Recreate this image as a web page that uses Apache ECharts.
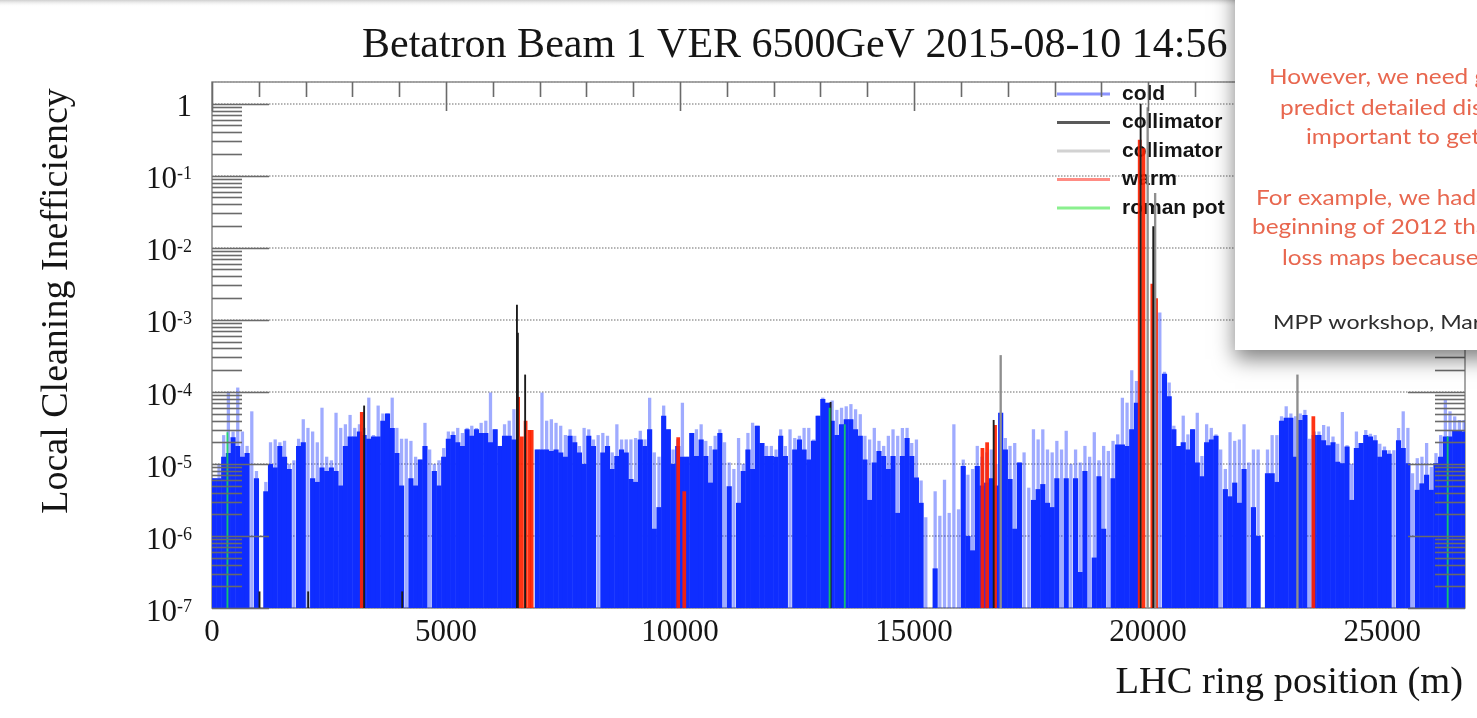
<!DOCTYPE html>
<html>
<head>
<meta charset="utf-8">
<script src="https://cdn.jsdelivr.net/npm/echarts@6/dist/echarts.min.js"></script>
<style>
  html, body { margin: 0; padding: 0; background: #ffffff; }
  #chart { width: 1477px; height: 718px; }
</style>
</head>
<body>
<div id="chart"></div>
<script>
// ---- Loss map data (positions in metres, losses as log10 of local cleaning inefficiency) ----

// Cold-element losses, 100 m bins starting at 0 m.
const BIN = 100;
// dense envelope of the cold losses per bin (null = no loss recorded in the bin)
const coldSolidExp = [
  -5.2,-5.2,-4.9,-4.85,-4.63,-4.75,-4.9,-4.85,null,-5.2,
  null,-5.38,-5.0,-5.05,-4.75,-4.9,-5.07,null,-4.75,-4.7,
  null,-5.2,-5.25,-5.05,-5.1,-5.05,-5.1,-5.3,-4.75,-4.62,
  -4.62,-4.55,-4.6,-4.65,-4.62,-4.62,-4.4,-4.3,-4.5,-4.85,
  -5.3,null,-5.2,-5.3,
  -4.94,-4.75,null,-5.1,-5.3,-4.9,-4.65,-4.6,-4.7,-4.75,
  -4.52,-4.61,-4.52,-4.57,-4.57,-4.7,-4.52,-4.75,-4.61,-4.61,
  -4.66,null,null,null,null,-4.8,-4.8,-4.8,-4.82,-4.8,
  -4.84,-4.9,-4.61,-4.7,-4.84,-5.0,-4.61,-4.75,null,-4.84,
  -4.75,-5.07,-4.89,-4.8,-4.84,
  -5.21,-5.25,-4.66,-4.75,-4.52,-5.9,-5.6,-4.33,-4.52,-5.0,
  -4.75,-4.9,-4.9,-4.57,-4.89,-4.66,-4.89,-5.26,-4.8,-4.57,
  null,-5.31,null,-5.54,-5.1,-4.8,-5.07,-4.47,-4.71,-4.89,
  -4.89,-4.9,-4.61,-4.89,null,-4.8,-4.66,-4.8,-4.94,-4.68,
  -4.33,-4.1,-4.15,-4.4,-4.6,
  -4.45,-4.38,-4.38,-4.52,-4.61,-4.94,-5.5,-4.98,-4.82,-4.89,
  -5.07,-4.89,-5.68,-4.89,-4.64,-4.89,-5.19,-5.54,null,null,
  -6.45,null,null,null,null,null,-5.03,-6.0,-6.2,-5.03,
  -5.3,-5.26,-5.2,-5.3,-4.29,-4.8,-5.21,-5.9,-4.98,null,
  null,-5.5,-5.35,-5.28,-5.54,
  -5.6,-5.2,null,-5.2,null,-5.2,-6.5,-5.1,null,-6.3,
  -5.17,-5.9,null,-5.2,-4.73,-4.73,-4.75,-4.52,-4.15,null,
  null,null,null,null,-3.75,-4.06,-4.52,-4.75,-4.7,-4.8,
  -4.52,-4.98,-5.17,-4.7,-4.66,-4.61,null,-5.35,-5.45,-5.26,
  -5.54,-5.07,null,-5.6,
  -6.0,null,-5.13,-5.13,-5.25,-4.4,-4.36,-4.36,-4.9,-4.39,
  -4.32,null,-4.6,-4.6,-4.67,-4.74,-4.7,-4.97,-4.99,-4.76,
  -5.5,-4.78,-4.71,-4.6,-4.62,-4.67,-4.9,-4.81,-4.86,null,
  -4.67,-4.78,-4.99,null,-5.36,-5.27,-5.15,-5.36,-4.99,-4.9,
  -4.62,-4.62,-4.53,-4.53,-4.55
];
// highest single cold monitor reading per bin
const coldSpikeExp = [
  -5.2,-5.0,-4.6,-4.0,-4.55,-3.94,-4.55,-4.75,-4.27,-5.1,
  null,-5.25,-4.7,-4.66,-4.7,-4.68,-5.0,-4.95,-4.65,-4.38,
  -4.5,-4.55,-4.7,-4.22,-4.9,-4.95,-4.29,-4.5,-4.45,-4.32,
  -4.5,-4.45,-4.5,-4.08,-4.6,-4.19,-4.3,-4.3,-4.08,-4.5,
  -4.65,-4.65,-4.68,-4.9,
  -4.94,-4.43,-4.8,-5.0,-4.95,-4.78,-4.55,-4.55,-4.5,-4.57,
  -4.5,-4.47,-4.5,-4.43,-4.4,-4.01,-4.52,-4.75,-4.45,-4.4,
  -4.24,null,null,null,null,-4.8,-4.01,-4.4,-4.38,-4.43,
  -4.47,-4.6,-4.52,-4.61,-4.75,-4.5,-4.52,-4.66,-4.6,-4.57,
  -4.61,-4.84,-4.45,-4.66,-4.66,
  -4.66,-4.64,-4.54,-4.66,-4.08,-4.84,-4.9,-4.19,-4.52,-4.8,
  -4.66,-4.15,-4.9,-4.57,-4.52,-4.45,-4.68,-4.75,-4.61,-4.52,
  -4.7,-4.98,-5.07,-4.64,-5.0,-4.57,-4.43,-4.47,-4.71,-4.75,
  -4.75,-4.8,-4.52,-4.75,-4.52,-4.64,-4.61,-4.5,-4.5,-4.66,
  -4.33,-4.08,-4.15,-4.12,-4.25,
  -4.22,-4.2,-4.17,-4.24,-4.31,-4.61,-4.66,-4.5,-4.68,-4.75,
  -4.61,-4.52,-4.61,-4.5,-4.5,-4.71,-4.66,-5.23,-5.74,null,
  -5.38,-5.72,-5.22,-5.68,-4.45,-5.63,-4.94,-5.15,-5.07,-4.75,
  -4.9,-4.84,-4.8,-5.0,-4.29,-4.64,-4.75,-4.71,-4.98,-4.84,
  -5.33,-4.52,-4.66,-4.52,-4.8,
  -4.84,-4.68,-4.8,-4.54,-5.0,-4.8,-4.98,-4.75,-4.9,-4.56,
  -4.95,-4.75,-4.82,-4.68,-4.59,-4.08,-4.15,-3.7,-3.85,null,
  null,null,null,-2.9,-3.72,-3.87,-4.47,-4.75,-4.33,-4.59,
  -4.52,-4.29,-4.89,-4.45,-4.5,-4.59,-4.8,-5.07,-4.56,-4.68,
  -4.66,-4.45,-4.98,-4.8,
  -4.8,null,-4.8,-4.6,-4.6,-4.34,-4.2,-4.3,-4.34,-4.3,
  -4.25,-4.65,-4.55,-4.55,-4.46,-4.48,-4.62,-4.72,-4.28,-4.74,
  -5.0,-4.55,-4.71,-4.53,-4.58,-4.6,-4.72,-4.76,-4.81,-4.81,
  -4.5,-4.27,-4.5,-5.13,-4.92,-4.9,-4.71,-5.04,-4.85,-4.6,
  -4.1,-4.27,-4.34,-4.39,-4.39
];

// Warm-element losses: [position (m), log10 inefficiency]
const warmLoss = [
  [3200, -4.28],
  [6540, -4.07], [6620, -4.62], [6700, -4.4], [6780, -4.53], [6830, -4.53],
  [9960, -4.63], [10090, -5.38],
  [16460, -4.78], [16560, -4.7], [16730, -4.46],
  [19820, -0.5], [19900, -0.62], [20090, -2.5], [20170, -2.7],
  [23530, -4.34]
];
// Collimator losses, first group (dark)
const collimatorDark = [
  [1015, -6.77], [2055, -6.77], [3250, -4.19], [4064, -6.77],
  [6515, -2.79], [6535, -3.18], [6690, -3.76],
  [13216, -4.14], [16700, -4.39],
  [19840, 0], [20110, -1.7]
];
// Collimator losses, second group (light)
const collimatorLight = [
  [16850, -3.49], [19990, -0.05], [20150, -1.24], [23190, -3.76]
];
// Roman pot losses
const romanPot = [
  [330, -4.56], [13195, -4.22], [13519, -4.45], [26400, -4.62]
];

// Axis settings
const X_MAX = 26770;
const Y_MIN = 1e-7;
const Y_MAX = 2;
const X_LABEL_STEP = 5000;
const X_TICK_STEP = 1000;
const Y_DECADES = [-7, -6, -5, -4, -3, -2, -1, 0];

const SERIF = '"Liberation Serif", "DejaVu Serif", serif';
const SANS = '"Liberation Sans", Arial, sans-serif';

// ---- Helpers ----
const toPoints = (list) => list.map(([x, e]) => [x, Math.pow(10, e)]);
const binPoints = (exps) => exps
  .map((e, i) => (e === null ? null : [i * BIN + BIN / 2, Math.pow(10, e)]))
  .filter(Boolean);

// Draws one vertical histogram bar per data point, from the value down to the axis floor.
function barRenderer(widthMetres, fill) {
  return function (params, api) {
    const x = api.value(0);
    const v = api.value(1);
    const topLeft = api.coord([x - widthMetres / 2, v]);
    const bottomRight = api.coord([x + widthMetres / 2, Y_MIN]);
    const cs = params.coordSys;
    const shape = echarts.graphic.clipRectByRect(
      { x: topLeft[0], y: topLeft[1], width: bottomRight[0] - topLeft[0], height: bottomRight[1] - topLeft[1] },
      { x: cs.x, y: cs.y, width: cs.width, height: cs.height }
    );
    if (!shape) return null;
    return { type: 'rect', shape: shape, style: { fill: fill } };
  };
}

function barSeries(name, data, widthMetres, fill, z) {
  return {
    name: name,
    type: 'custom',
    coordinateSystem: 'cartesian2d',
    renderItem: barRenderer(widthMetres, fill),
    data: data,
    encode: { x: 0, y: 1 },
    z: z,
    silent: true,
    clip: true
  };
}

// Inward frame ticks: log minor/major ticks on both vertical edges, metre ticks along the top.
const yTickValues = [];
Y_DECADES.forEach((d) => {
  yTickValues.push({ v: Math.pow(10, d), major: true });
  for (let m = 2; m <= 9; m++) {
    const v = m * Math.pow(10, d);
    if (v < Y_MAX) yTickValues.push({ v: v, major: false });
  }
});
const xTickValues = [];
for (let x = 0; x <= X_MAX; x += X_TICK_STEP) {
  xTickValues.push({ v: x, major: x % X_LABEL_STEP === 0 });
}

function frameTicks(params, api) {
  const cs = params.coordSys;
  const left = cs.x, right = cs.x + cs.width, top = cs.y;
  const stroke = { stroke: '#6a6a6a', lineWidth: 1.6 };
  const children = [];
  yTickValues.forEach((t) => {
    const y = Math.round(api.coord([0, t.v])[1]) + 0.5;
    const len = t.major ? 57 : 30;
    children.push({ type: 'line', shape: { x1: left, y1: y, x2: left + len, y2: y }, style: stroke });
    children.push({ type: 'line', shape: { x1: right - len, y1: y, x2: right, y2: y }, style: stroke });
  });
  xTickValues.forEach((t) => {
    const x = Math.round(api.coord([t.v, 1])[0]) + 0.5;
    const len = t.major ? 29 : 15;
    children.push({ type: 'line', shape: { x1: x, y1: top, x2: x, y2: top + len }, style: stroke });
  });
  return { type: 'group', children: children };
}

// Slide note lying over the top-right corner
const NOTE_Z = 100;
const NOTE_RED = '#e8674f';
function noteLine(x, y, text, fill, size) {
  return {
    type: 'text', x: x, y: y, scaleX: 1.16, z: NOTE_Z, silent: true,
    style: { text: text, fill: fill, font: size + 'px Lato', verticalAlign: 'middle' }
  };
}

// ---- Chart ----
const chart = echarts.init(document.getElementById('chart'), null, { renderer: 'canvas' });

chart.setOption({
  animation: false,
  backgroundColor: '#ffffff',
  title: {
    text: 'Betatron Beam 1 VER 6500GeV 2015-08-10 14:56',
    left: 362,
    top: 25,
    padding: 0,
    textStyle: { fontFamily: SERIF, fontSize: 42, fontWeight: 'normal', color: '#151515' }
  },
  grid: {
    left: 212, top: 82, width: 1253, height: 526,
    show: true, borderColor: '#8a8a8a', borderWidth: 1.5, backgroundColor: 'transparent'
  },
  legend: {
    orient: 'vertical',
    left: 1057,
    top: 80,
    padding: 0,
    itemWidth: 53,
    itemHeight: 3,
    itemGap: 0.5,
    icon: 'rect',
    selectedMode: false,
    textStyle: { fontFamily: SANS, fontSize: 21, fontWeight: 'bold', color: '#141414', lineHeight: 22, padding: [0, 0, 6, 7] },
    data: [
      { name: 'cold', itemStyle: { color: '#8c94ff' } },
      { name: 'collimator', itemStyle: { color: '#5a5a5a' } },
      { name: 'collimator ', itemStyle: { color: '#d2d2d2' } },
      { name: 'warm', itemStyle: { color: '#ff8c84' } },
      { name: 'roman pot', itemStyle: { color: '#8af08e' } }
    ]
  },
  xAxis: {
    type: 'value',
    min: 0,
    max: X_MAX,
    interval: X_LABEL_STEP,
    axisLine: { show: false },
    axisTick: { show: false },
    splitLine: { show: false },
    axisLabel: {
      showMaxLabel: false,
      margin: 9,
      fontFamily: SERIF,
      fontSize: 31,
      color: '#151515',
      formatter: (v) => (v % X_LABEL_STEP === 0 ? String(v) : '')
    },
    name: 'LHC ring position (m)',
    nameLocation: 'end',
    nameGap: -2,
    nameTextStyle: {
      fontFamily: SERIF, fontSize: 38.5, color: '#151515',
      align: 'right', verticalAlign: 'top', padding: [55, 0, 0, 0]
    }
  },
  yAxis: {
    type: 'log',
    logBase: 10,
    min: Y_MIN,
    max: Y_MAX,
    axisLine: { show: false },
    axisTick: { show: false },
    splitLine: { show: true, lineStyle: { type: 'dotted', color: '#9c9c9c', width: 1.5 } },
    axisLabel: {
      margin: 20,
      padding: [10, 0, 0, 0],
      formatter: (v) => {
        const lg = Math.log10(v);
        const e = Math.round(lg);
        if (Math.abs(lg - e) > 1e-6) return '';
        return e === 0 ? '{b|1}' : '{b|10}{s|' + e + '}';
      },
      rich: {
        b: { fontFamily: SERIF, fontSize: 31, color: '#151515', lineHeight: 30, verticalAlign: 'bottom' },
        s: { fontFamily: SERIF, fontSize: 18, color: '#151515', lineHeight: 18, verticalAlign: 'top' }
      }
    },
    name: 'Local Cleaning Inefficiency',
    nameLocation: 'middle',
    nameGap: 136,
    nameTextStyle: { fontFamily: SERIF, fontSize: 38, color: '#151515', padding: [0, 0, 0, 88] }
  },
  series: [
    barSeries('cold', binPoints(coldSpikeExp), 70, 'rgba(15, 45, 255, 0.4)', 2),
    barSeries('cold', binPoints(coldSolidExp), BIN + 10, '#0f2dff', 3),
    barSeries('warm', toPoints(warmLoss), 80, 'rgba(255, 34, 0, 0.92)', 4),
    barSeries('collimator ', toPoints(collimatorLight), 50, '#8e8e8e', 5),
    barSeries('collimator', toPoints(collimatorDark), 40, '#1c1c1c', 6),
    barSeries('roman pot', toPoints(romanPot), 40, 'rgba(20, 220, 90, 0.85)', 7),
    {
      name: 'frame ticks',
      type: 'custom',
      coordinateSystem: 'cartesian2d',
      renderItem: frameTicks,
      data: [[0, 1]],
      encode: { x: 0, y: 1 },
      z: 8,
      silent: true,
      clip: false
    }
  ],
  graphic: [
    {
      type: 'rect',
      z: 50,
      silent: true,
      shape: { x: 0, y: 0, width: 1477, height: 7 },
      style: {
        fill: new echarts.graphic.LinearGradient(0, 0, 0, 1, [
          { offset: 0, color: '#cfcfcf' },
          { offset: 1, color: 'rgba(255,255,255,0)' }
        ])
      }
    },
    {
      type: 'rect',
      z: NOTE_Z,
      silent: true,
      shape: { x: 1235, y: -30, width: 300, height: 380 },
      style: { fill: '#ffffff', shadowBlur: 20, shadowOffsetY: 9, shadowColor: 'rgba(0,0,0,0.5)' }
    },
    noteLine(1269, 77, 'However, we need g', NOTE_RED, 21),
    noteLine(1280, 108, 'predict detailed dis', NOTE_RED, 21),
    noteLine(1306, 137, 'important to get', NOTE_RED, 21),
    noteLine(1256, 198, 'For example, we had', NOTE_RED, 21),
    noteLine(1252, 227, 'beginning of 2012 tha', NOTE_RED, 21),
    noteLine(1282, 258, 'loss maps because', NOTE_RED, 21),
    noteLine(1273, 323, 'MPP workshop, Mar', '#2e2e2e', 20)
  ]
});
</script>
</body>
</html>
